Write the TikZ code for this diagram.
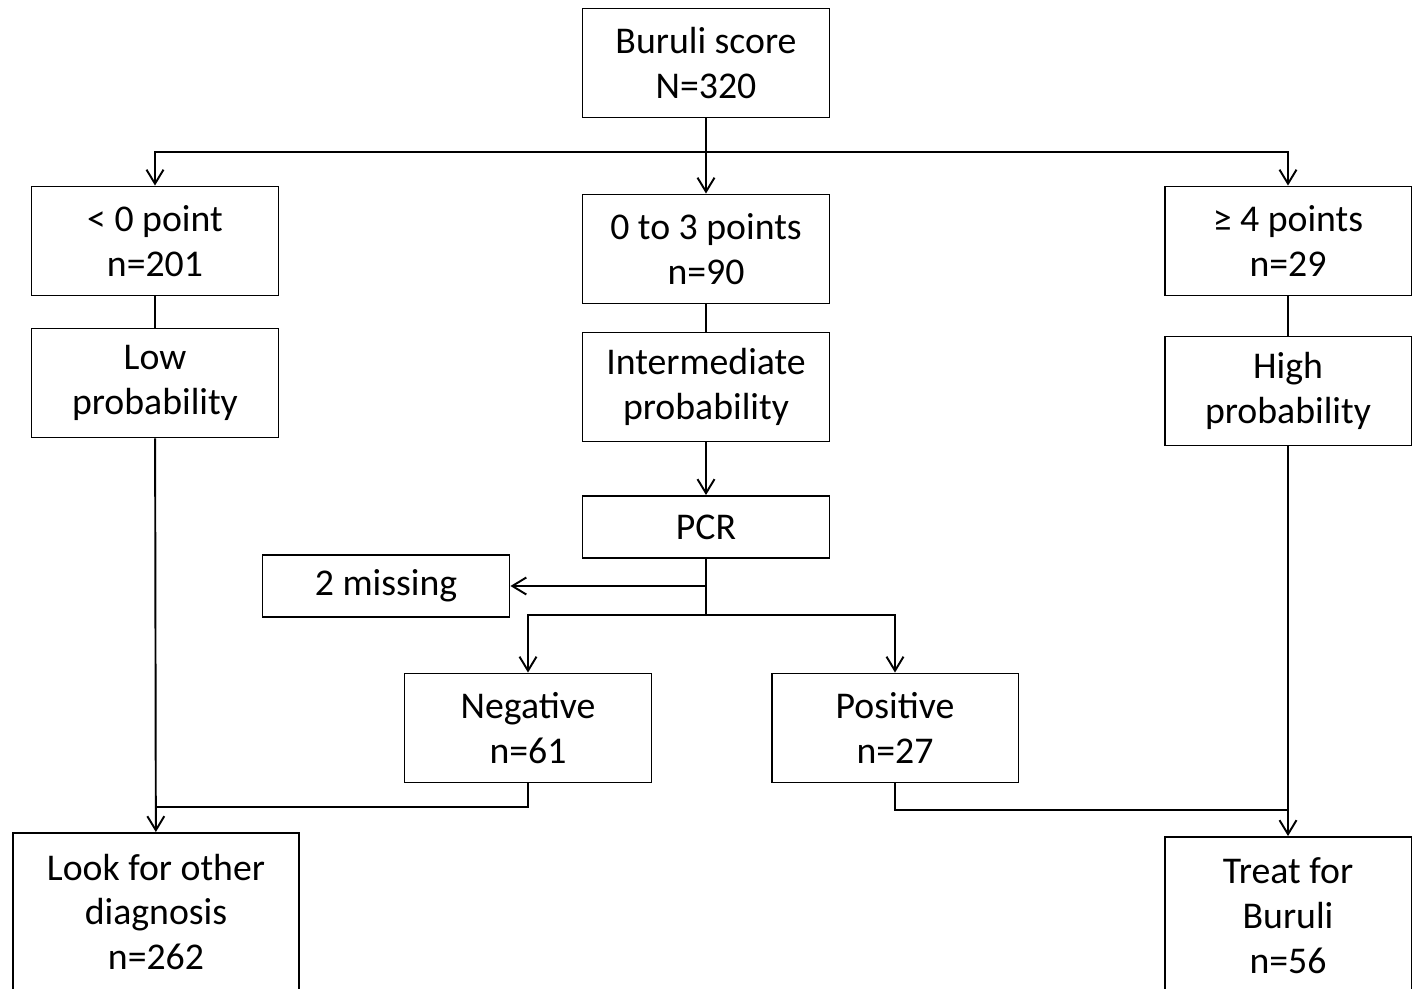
\documentclass[tikz,border=0pt]{standalone}
\usepackage{fontspec}
\setmainfont{Carlito}
\usepackage{tikz}
\usetikzlibrary{arrows.meta}

\begin{document}
\begin{tikzpicture}[x=0.02cm, y=-0.02cm, line width=1.1pt,
    >={Straight Barb[length=0.28cm, width=0.34cm]},
    every node/.style={font=\fontsize{21.5}{25.6}\selectfont, align=center},
    box/.style={draw, minimum width=4.94cm, minimum height=2.18cm, inner sep=0pt},
    flatbox/.style={box, minimum height=1.24cm},
    tallbox/.style={box, minimum height=3.16cm}]
  \useasboundingbox (0,0) rectangle (1416,989);

  \node[box]      (buruli) at (706,63)   {Buruli score\\N=320};
  \node[box]      (low0)   at (155,241)  {< 0 point\\n=201};
  \node[box]      (mid0)   at (706,249)  {0 to 3 points\\n=90};
  \node[box]      (high4)  at (1288,241) {≥ 4 points\\n=29};
  \node[box]      (lowp)   at (155,383)  {Low\\probability};
  \node[box]      (midp)   at (706,387)  {Intermediate\\probability};
  \node[box]      (highp)  at (1288,391) {High\\probability};
  \node[flatbox]  (pcr)    at (706,527)  {PCR};
  \node[flatbox]  (miss)   at (386,586)  {2 missing};
  \node[box]      (neg)    at (528,728)  {Negative\\n=61};
  \node[box]      (pos)    at (895,728)  {Positive\\n=27};
  \node[tallbox, minimum width=5.72cm]
                  (other)  at (156,912)  {Look for other\\diagnosis\\n=262};
  \node[tallbox]  (treat)  at (1288,916) {Treat for\\Buruli\\n=56};

  \coordinate (split) at (706,152);
  \coordinate (fork)  at (706,615);
  \coordinate (ljoin) at (155,807);
  \coordinate (rjoin) at (1288,810);

  \draw[->] (buruli) -- (mid0);
  \draw[->] (split) -| (low0.north);
  \draw[->] (split) -| (high4.north);
  \draw (low0) -- (lowp);
  \draw (mid0) -- (midp);
  \draw (high4) -- (highp);
  \draw[->] (midp) -- (pcr);
  \draw[->] (pcr.south) |- (miss.east);
  \draw (pcr.south) -- (fork);
  \draw[->] (fork) -| (neg.north);
  \draw[->] (fork) -| (pos.north);
  \draw[->] (lowp) -- (other);
  \draw (neg.south) |- (ljoin);
  \draw[->] (highp) -- (treat);
  \draw (pos.south) |- (rjoin);
\end{tikzpicture}
\end{document}
